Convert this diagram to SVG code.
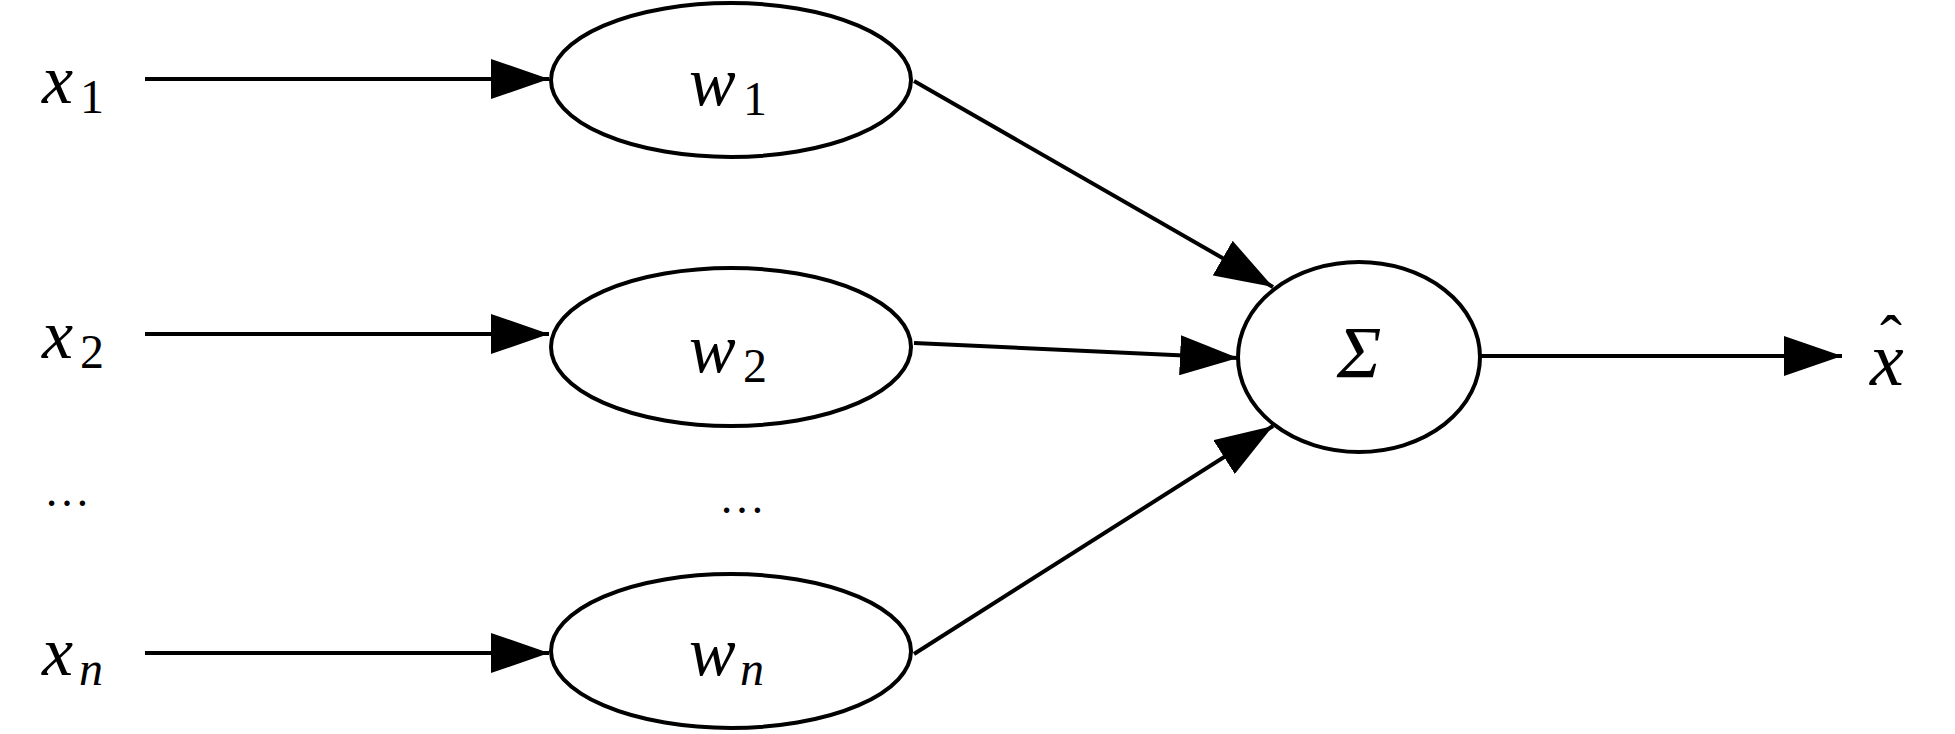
<svg xmlns="http://www.w3.org/2000/svg" width="1955" height="734" viewBox="0 0 1955 734">
<style>
.n{fill:#fff;stroke:#000;stroke-width:4}
.e{stroke:#000;stroke-width:4;fill:none}
text,tspan{font-family:'Liberation Serif','Times New Roman',Times,serif;fill:#000}
.t{font-style:italic}
.s{font-style:normal}
.m{font-size:70px}
.b{font-size:48px}
</style>
<defs>
<marker id="ah" markerUnits="userSpaceOnUse" markerWidth="60" markerHeight="40" refX="58" refY="20" orient="auto">
<path d="M0,0 L58,20 L0,40 Z" fill="#000"/>
</marker>
</defs>
<rect width="1955" height="734" fill="#fff"/>
<g id="connectors">
<line class="e" x1="145" y1="79" x2="549" y2="79" marker-end="url(#ah)"/>
<line class="e" x1="145" y1="334" x2="549" y2="334" marker-end="url(#ah)"/>
<line class="e" x1="145" y1="653" x2="549" y2="653" marker-end="url(#ah)"/>
<line class="e" x1="914" y1="81" x2="1273" y2="287" marker-end="url(#ah)"/>
<line class="e" x1="914" y1="343" x2="1238" y2="358" marker-end="url(#ah)"/>
<line class="e" x1="914" y1="654" x2="1273" y2="426" marker-end="url(#ah)"/>
<line class="e" x1="1480" y1="356" x2="1842" y2="356" marker-end="url(#ah)"/>
</g>
<g id="in1"><text class="t m" x="42" y="103">x<tspan class="s b" x="80" y="113">1</tspan></text></g>
<g id="in2"><text class="t m" x="42" y="358">x<tspan class="s b" x="80" y="368">2</tspan></text></g>
<g id="dots1"><text class="s" x="44" y="506" font-size="46">…</text></g>
<g id="inn"><text class="t m" x="42" y="675">x<tspan class="t b" x="79" y="685">n</tspan></text></g>
<g id="w1"><ellipse class="n" cx="731" cy="80" rx="180" ry="77"/><text class="t m" x="689" y="105">w<tspan class="s b" x="743" y="115">1</tspan></text></g>
<g id="w2"><ellipse class="n" cx="731" cy="347" rx="180" ry="79"/><text class="t m" x="689" y="372">w<tspan class="s b" x="743" y="382">2</tspan></text></g>
<g id="dots2"><text class="s" x="719" y="513" font-size="46">…</text></g>
<g id="wn"><ellipse class="n" cx="731" cy="651" rx="180" ry="77"/><text class="t m" x="689" y="675">w<tspan class="t b" x="740" y="685">n</tspan></text></g>
<g id="sum"><ellipse class="n" cx="1359" cy="357" rx="121" ry="95"/><text class="t" x="1359" y="378" font-size="75" text-anchor="middle">Σ</text></g>
<g id="out"><text class="t" x="1870" y="385" font-size="76">x<tspan class="s" x="1880" y="361" font-size="66">ˆ</tspan></text></g>
</svg>
